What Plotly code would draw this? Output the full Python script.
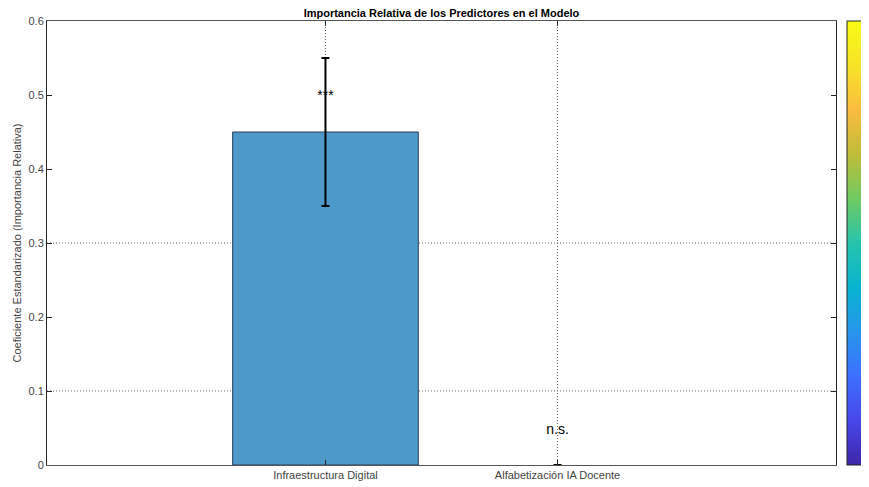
import plotly.graph_objects as go

predictores = ["Infraestructura Digital", "Alfabetización IA Docente"]
posiciones = [1, 2]
coeficientes = [0.45, 0.0]
errores = [0.10, 0.0]
significancia = ["***", "n.s."]
sig_y = [0.498, 0.047]
y_ticks = [0, 0.1, 0.2, 0.3, 0.4, 0.5, 0.6]
grid_y = [0.1, 0.3]

parula = [
    [0.0, "#3e26a8"], [0.1, "#4747eb"], [0.2, "#3e6ffe"], [0.3, "#2796eb"],
    [0.4, "#08b4d0"], [0.5, "#27c4ad"], [0.6, "#70cb61"], [0.7, "#c0bc39"],
    [0.8, "#fbbc40"], [0.9, "#f6e328"], [1.0, "#f9fb14"],
]

FONT = "Liberation Sans, Arial, sans-serif"
AX = "#262626"
# page has an 8px body margin; figure coordinates are offset accordingly
OX, OY = 8, 8
W, H = 869 - OX, 487 - OY
L, R, T, B = 47 - OX, 836 - OX, 21 - OY, 465 - OY

fig = go.Figure()
fig.add_trace(go.Bar(
    x=posiciones, y=coeficientes, width=0.8,
    marker=dict(color="#4d99ca", line=dict(color="#2b3f55", width=[1, 0])),
    error_y=dict(type="data", array=errores, visible=True, color="black",
                 thickness=2, width=4),
    showlegend=False, hoverinfo="skip",
))
fig.add_trace(go.Scatter(
    x=posiciones, y=sig_y, mode="text", text=significancia,
    textfont=dict(family=FONT, size=14, color="black"),
    showlegend=False, hoverinfo="skip",
))
# dummy trace for colorbar
fig.add_trace(go.Scatter(
    x=[None], y=[None], mode="markers",
    marker=dict(color=[0], cmin=0, cmax=1, colorscale=parula, showscale=True,
                colorbar=dict(xref="paper", x=(847 - OX - L) / (R - L), xanchor="left",
                              thickness=19, thicknessmode="pixels",
                              len=1, lenmode="fraction",
                              y=0.5, yanchor="middle", xpad=0, ypad=0,
                              outlinecolor=AX, outlinewidth=1,
                              ticks="inside", ticklen=4, tickcolor=AX,
                              showticklabels=False, nticks=12)),
    showlegend=False, hoverinfo="skip",
))

for gy in grid_y:
    fig.add_shape(type="line", xref="paper", x0=0, x1=1, yref="y", y0=gy, y1=gy,
                  line=dict(color="#666666", width=1, dash="1px,2px"), layer="below")

fig.update_layout(
    width=W, height=H,
    margin=dict(l=L, r=W - R, t=T, b=H - B, autoexpand=False),
    paper_bgcolor="white", plot_bgcolor="white",
    title=dict(text="<b>Importancia Relativa de los Predictores en el Modelo</b>",
               x=(L + R) / 2 / W, xanchor="center", y=1 - 5 / H, yanchor="middle",
               font=dict(family=FONT, size=11, color="black")),
    font=dict(family=FONT, size=11, color=AX),
    xaxis=dict(range=[-0.2, 3.2], tickvals=posiciones, ticktext=predictores,
               showgrid=True, gridcolor="#666666", griddash="1px,2px", gridwidth=1,
               ticks="inside", ticklen=5, tickcolor=AX, mirror="allticks",
               showline=True, linecolor="#555555", linewidth=1, zeroline=False,
               automargin=False, tickfont=dict(size=11, color="#444444")),
    yaxis=dict(range=[0, 0.6], tickvals=y_ticks,
               ticktext=["0", "0.1", "0.2", "0.3", "0.4", "0.5", "0.6"],
               showgrid=False, ticks="inside", ticklen=5, tickcolor=AX,
               mirror="allticks", showline=True, linecolor=AX, linewidth=1,
               zeroline=False, automargin=False,
               tickfont=dict(size=11, color="#444444"),
               title=dict(text="Coeficiente Estandarizado (Importancia Relativa)",
                          font=dict(size=11, color="#444444"), standoff=4)),
)

fig.write_html("out.html")
